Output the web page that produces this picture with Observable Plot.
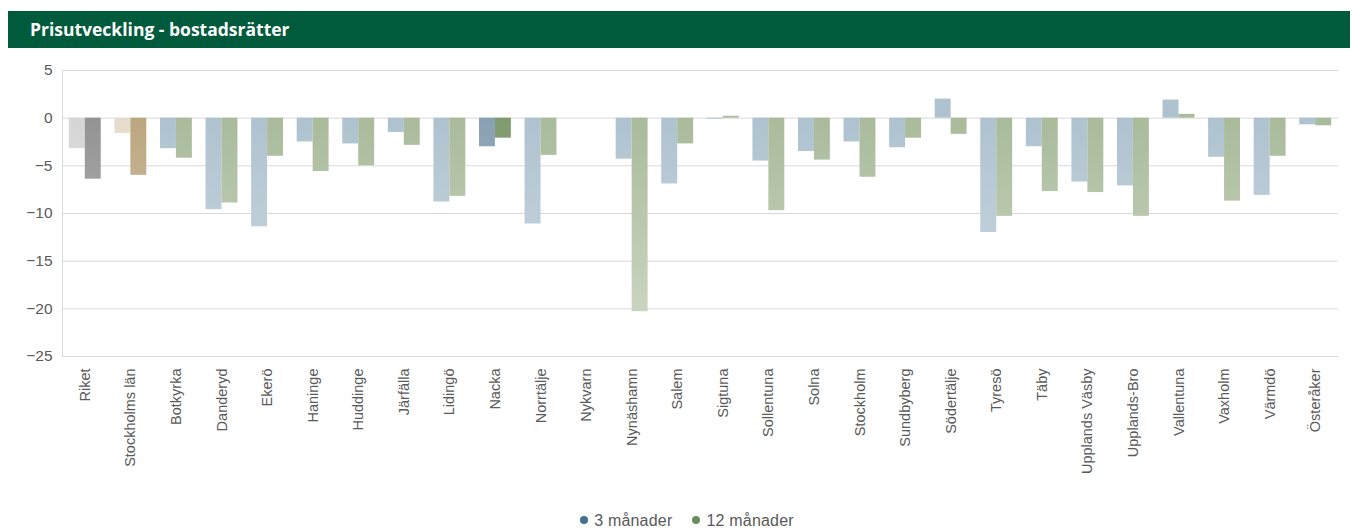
<!DOCTYPE html>
<html>
<head>
<meta charset="utf-8">
<script src="https://cdn.jsdelivr.net/npm/d3@7"></script>
<script src="https://cdn.jsdelivr.net/npm/@observablehq/plot@0.6"></script>
<style>
  html, body { margin: 0; padding: 0; background: #fff; }
  body { width: 1360px; height: 532px; position: relative; overflow: hidden; font-family: "Liberation Sans", Arial, sans-serif; }
  #title { position: absolute; left: 8px; top: 11px; width: 1342px; height: 37px; background: #005a3c; color: #fff;
           font-family: "Open Sans", sans-serif; font-weight: 700; font-size: 17.5px; line-height: 37px; box-sizing: border-box; padding-left: 22px; }
  #chart { position: absolute; left: 0; top: 55px; }
  #legend { position: absolute; left: 0; width: 1374px; top: 512px; text-align: center; font-size: 16px; letter-spacing: 0.2px; color: #595959; }
  #legend span.item { display: inline-block; margin: 0 10px; }
  #legend span.dot { display: inline-block; width: 8px; height: 8px; border-radius: 50%; margin-right: 6px; vertical-align: 2px; }
</style>
</head>
<body>
<div id="title">Prisutveckling - bostadsrätter</div>
<div id="chart"></div>
<div id="legend"></div>
<script>
const categories = ["Riket", "Stockholms län", "Botkyrka", "Danderyd", "Ekerö", "Haninge", "Huddinge", "Järfälla", "Lidingö", "Nacka", "Norrtälje", "Nykvarn", "Nynäshamn", "Salem", "Sigtuna", "Sollentuna", "Solna", "Stockholm", "Sundbyberg", "Södertälje", "Tyresö", "Täby", "Upplands Väsby", "Upplands-Bro", "Vallentuna", "Vaxholm", "Värmdö", "Österåker"];
const months3 = [-3.2, -1.6, -3.2, -9.6, -11.4, -2.5, -2.7, -1.5, -8.8, -3.0, -11.1, null, -4.3, -6.9, -0.1, -4.5, -3.5, -2.5, -3.1, 2.0, -12.0, -3.0, -6.7, -7.1, 1.9, -4.1, -8.1, -0.7];
const months12 = [-6.4, -6.0, -4.2, -8.9, -4.0, -5.6, -5.0, -2.85, -8.2, -2.1, -3.9, null, -20.3, -2.7, 0.2, -9.7, -4.4, -6.2, -2.1, -1.7, -10.3, -7.7, -7.8, -10.3, 0.4, -8.7, -4.0, -0.8];
const seriesNames = ["3 månader", "12 månader"];
const yTicks = [5, 0, -5, -10, -15, -20, -25];

// styling
const baseColors = { "3 månader": "#aec2cf", "12 månader": "#a9bb9b" };
const specialColors = {
  "Riket": { "3 månader": "#d6d6d6", "12 månader": "#939393" },
  "Stockholms län": { "3 månader": "#e6dccd", "12 månader": "#bca680" },
  "Nacka": { "3 månader": "#87a0b2", "12 månader": "#7f9a6c" }
};
const legendColors = { "3 månader": "#45708f", "12 månader": "#6b8e5a" };
const colorFor = (cat, s) => (specialColors[cat] || baseColors)[s];

const rows3 = categories.map((c, i) => ({ cat: c, v: months3[i] }));
const rows12 = categories.map((c, i) => ({ cat: c, v: months12[i] }));

const width = 1360, height = 450, marginTop = 15, marginBottom = 149, marginLeft = 62, marginRight = 22;
const step = (width - marginLeft - marginRight) / categories.length;
const half = step * 0.7 / 2;

const leftLine = (index, scales, values, dims) => {
  const l = document.createElementNS("http://www.w3.org/2000/svg", "line");
  l.setAttribute("x1", dims.marginLeft + 0.5); l.setAttribute("x2", dims.marginLeft + 0.5);
  l.setAttribute("y1", scales.y(5)); l.setAttribute("y2", scales.y(-25));
  l.setAttribute("stroke", "#d9d9d9");
  return l;
};

const plot = Plot.plot({
  width, height, marginTop, marginBottom, marginLeft, marginRight,
  style: { fontFamily: "'Liberation Sans', Arial, sans-serif", fontSize: "14px", color: "#595959", background: "#fff" },
  x: { domain: categories, paddingInner: 0.3, paddingOuter: 0.15, round: false, label: null },
  y: { domain: [-25, 5], label: null },
  color: { type: "identity" },
  marks: [
    Plot.gridY(yTicks, { stroke: "#d9d9d9", strokeOpacity: 1 }),
    leftLine,
    Plot.barY(rows3, { x: "cat", y: "v", fill: d => colorFor(d.cat, seriesNames[0]), insetRight: half }),
    Plot.barY(rows12, { x: "cat", y: "v", fill: d => colorFor(d.cat, seriesNames[1]), insetLeft: half }),
    Plot.axisY(yTicks, { tickSize: 0, tickPadding: 10, fill: "#595959", fontSize: 15.5, label: null }),
    Plot.axisX({ tickSize: 0, tickPadding: 12, tickRotate: -90, fill: "#595959", fontSize: 14.5, label: null })
  ]
});

// fade bars toward the bottom like the original gradient fill
const svg = d3.select(plot);
const defs = svg.insert("defs", ":first-child");
const plotH = height - marginTop - marginBottom;
const y0 = marginTop + (5 / 30) * plotH;
const yEnd = height - marginBottom;
let gid = 0;
svg.selectAll("rect").each(function () {
  const r = d3.select(this);
  const f = r.attr("fill");
  if (!f || f === "none" || f.startsWith("url")) return;
  const light = d3.interpolateRgb(f, "#ffffff")(0.45);
  const id = "g" + (gid++);
  const g = defs.append("linearGradient").attr("id", id).attr("gradientUnits", "userSpaceOnUse")
    .attr("x1", 0).attr("x2", 0).attr("y1", y0).attr("y2", yEnd);
  g.append("stop").attr("offset", 0).attr("stop-color", f);
  g.append("stop").attr("offset", 1).attr("stop-color", light);
  r.attr("fill", `url(#${id})`);
});

document.getElementById("chart").appendChild(plot);

const legend = document.getElementById("legend");
seriesNames.forEach(s => {
  const item = document.createElement("span");
  item.className = "item";
  const dot = document.createElement("span");
  dot.className = "dot";
  dot.style.background = legendColors[s];
  item.appendChild(dot);
  item.appendChild(document.createTextNode(s));
  legend.appendChild(item);
});
</script>
</body>
</html>
